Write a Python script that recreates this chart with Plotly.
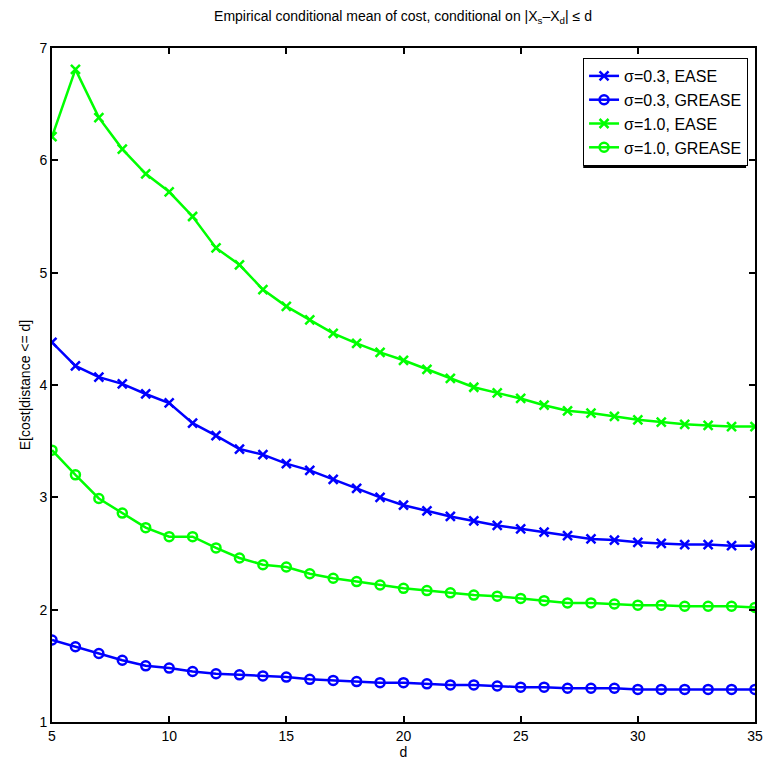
import plotly.graph_objects as go

# distance thresholds
d = list(range(5, 36))

# empirical conditional mean of cost
ease_03 = [4.38, 4.17, 4.07, 4.01, 3.92, 3.84, 3.66, 3.55, 3.43, 3.38, 3.30,
           3.24, 3.16, 3.08, 3.00, 2.93, 2.88, 2.83, 2.79, 2.75, 2.72,
           2.69, 2.66, 2.63, 2.62, 2.60, 2.59, 2.58, 2.58, 2.57, 2.57]
grease_03 = [1.73, 1.67, 1.61, 1.55, 1.50, 1.48, 1.45, 1.43, 1.42, 1.41, 1.40,
             1.38, 1.37, 1.36, 1.35, 1.35, 1.34, 1.33, 1.33, 1.32, 1.31,
             1.31, 1.30, 1.30, 1.30, 1.29, 1.29, 1.29, 1.29, 1.29, 1.29]
ease_10 = [6.21, 6.81, 6.38, 6.10, 5.88, 5.72, 5.50, 5.22, 5.07, 4.85, 4.70,
           4.58, 4.46, 4.37, 4.29, 4.22, 4.14, 4.06, 3.98, 3.93, 3.88,
           3.82, 3.77, 3.75, 3.72, 3.69, 3.67, 3.65, 3.64, 3.63, 3.63]
grease_10 = [3.42, 3.20, 2.99, 2.86, 2.73, 2.65, 2.65, 2.55, 2.46, 2.40, 2.38,
             2.32, 2.28, 2.25, 2.22, 2.19, 2.17, 2.15, 2.13, 2.12, 2.10,
             2.08, 2.06, 2.06, 2.05, 2.04, 2.04, 2.03, 2.03, 2.03, 2.02]

series = [
    ("σ=0.3, EASE", ease_03, "#0000ff", "x-thin-open"),
    ("σ=0.3, GREASE", grease_03, "#0000ff", "circle-open"),
    ("σ=1.0, EASE", ease_10, "#00ff00", "x-thin-open"),
    ("σ=1.0, GREASE", grease_10, "#00ff00", "circle-open"),
]

fig = go.Figure()
for name, vals, color, sym in series:
    fig.add_trace(go.Scatter(
        x=d, y=vals, name=name, mode="lines+markers",
        line=dict(color=color, width=2.5),
        marker=dict(symbol=sym, size=9, color=color,
                    line=dict(color=color, width=2.5)),
    ))

font = "Liberation Sans, Arial, sans-serif"
axis_common = dict(
    showline=True, linecolor="black", linewidth=2, mirror="ticks",
    ticks="inside", ticklen=6, tickwidth=2, tickcolor="black",
    showgrid=False, zeroline=False,
    tickfont=dict(family=font, size=14, color="black"),
)

# plot area in pixels: x 52..760, y 48..722
def px_x(p):
    return (p - 52) / 708.0

def px_y(p):
    return (722 - p) / 674.0

# drop shadow behind the legend box
fig.add_shape(type="rect", xref="paper", yref="paper",
              x0=px_x(587), x1=px_x(751), y0=px_y(168), y1=px_y(61),
              fillcolor="black", line=dict(width=0), layer="above")

fig.update_layout(
    width=775, height=768,
    margin=dict(l=52, r=15, t=48, b=46),
    paper_bgcolor="white", plot_bgcolor="white",
    title=dict(text="Empirical conditional mean of cost, conditional on |X<sub>s</sub>–X<sub>d</sub>| ≤ d",
               x=0.52, xanchor="center", y=0.985, yanchor="top",
               font=dict(family=font, size=14, color="black")),
    xaxis=dict(range=[5, 35], tickvals=[5, 10, 15, 20, 25, 30, 35],
               title=dict(text="d", standoff=2,
                          font=dict(family=font, size=14, color="black")),
               **axis_common),
    yaxis=dict(range=[1, 7], tickvals=[1, 2, 3, 4, 5, 6, 7],
               title=dict(text="E[cost|distance <= d]", standoff=6,
                          font=dict(family=font, size=14, color="black")),
               **axis_common),
    legend=dict(x=px_x(753), xanchor="right", y=px_y(58), yanchor="top",
                bgcolor="white", bordercolor="black", borderwidth=1,
                font=dict(family=font, size=16, color="black"),
                tracegroupgap=0, itemwidth=30),
    showlegend=True,
)

fig.write_html("out.html")
